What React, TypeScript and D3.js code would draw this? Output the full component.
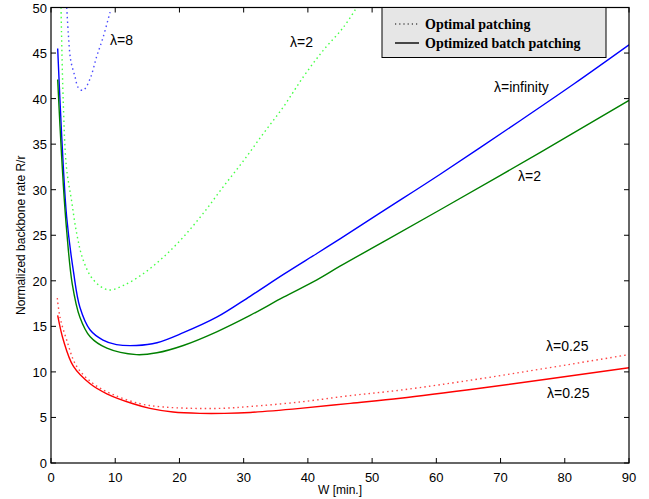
import React from "react";
import * as d3 from "d3";

const xTicks = [0, 10, 20, 30, 40, 50, 60, 70, 80, 90];
const yTicks = [0, 5, 10, 15, 20, 25, 30, 35, 40, 45, 50];

// Optimal patching (dotted)
const optL8W = [2.45, 2.7, 3.07, 3.74, 4.25, 5.0, 6.1, 7.1, 8.1, 9.2];
const optL8R = [50, 47.1, 44.2, 42.4, 41.2, 40.9, 42.2, 44.6, 46.7, 49.5];

const optL2W = [1.56, 1.9, 2.4, 3.2, 4.0, 5.0, 6.6, 8.9, 11.3, 14.4, 17.5, 20.6, 23.7, 26.8, 30, 33.1, 36.2, 39.3, 42.4, 45.5, 47.6];
const optL2R = [50, 39.8, 32.5, 28.8, 25.2, 22.3, 20.1, 19.0, 19.5, 20.8, 22.6, 24.8, 27.4, 30.3, 33.2, 36.2, 39.1, 42.4, 45.3, 47.8, 50];

const optL025W = [0.98, 1.4, 2.44, 4.0, 6.6, 9.7, 13.9, 17.5, 22, 26.5, 31, 38.8, 46.6, 54.4, 67.3, 90];
const optL025R = [18.1, 16.0, 13.5, 10.6, 8.7, 7.5, 6.5, 6.15, 6.0, 6.0, 6.2, 6.7, 7.4, 8.0, 9.3, 11.9];

// Optimized batch patching (solid)
const batchInfW = [1.04, 1.4, 1.92, 2.44, 3.5, 4.5, 6.1, 8.1, 10.2, 13.3, 16.5, 20.6, 25.8, 31, 36.2, 41.4, 45, 51.8, 60.6, 73.1, 81.4, 90];
const batchInfR = [45.5, 39.8, 32.5, 27.0, 21.0, 17.1, 14.6, 13.5, 13.0, 12.9, 13.2, 14.3, 16.0, 18.3, 20.7, 23.0, 24.6, 27.7, 31.7, 37.6, 41.6, 45.9];

const batchL2W = [1.04, 1.4, 1.92, 2.44, 3.3, 4.5, 6.1, 8.7, 13.3, 16.5, 20.6, 25.8, 31, 36.2, 41.4, 45, 51.8, 60.6, 76.2, 90];
const batchL2R = [42.1, 37.0, 30.5, 25.5, 19.7, 16.0, 13.85, 12.6, 11.9, 12.1, 12.9, 14.4, 16.2, 18.2, 20.1, 21.6, 24.3, 27.8, 34.1, 39.8];

const batchL025W = [1.04, 1.92, 3.5, 6.1, 8.7, 12.8, 15.4, 19, 23.2, 27, 31, 38.8, 46.6, 54.4, 66.8, 90];
const batchL025R = [16.2, 13.5, 10.6, 8.7, 7.6, 6.5, 6.0, 5.6, 5.45, 5.45, 5.55, 6.0, 6.55, 7.1, 8.2, 10.45];

const legendLabels = ["Optimal patching", "Optimized batch patching"];

const left = 51, right = 629, top = 7.5, bottom = 463;

export default function App() {
  const x = d3.scaleLinear().domain([0, 90]).range([left, right]);
  const y = d3.scaleLinear().domain([0, 50]).range([bottom, top]);
  const line = d3.line<[number, number]>().x(d => x(d[0])).y(d => y(d[1])).curve(d3.curveCatmullRom.alpha(0.5));
  const pts = (w: number[], r: number[]) => w.map((v, i) => [v, r[i]] as [number, number]);

  const series = [
    { w: optL8W, r: optL8R, color: "#4a4aff", dotted: true },
    { w: optL2W, r: optL2R, color: "#44ff44", dotted: true },
    { w: optL025W, r: optL025R, color: "#ff4444", dotted: true },
    { w: batchInfW, r: batchInfR, color: "#0000ff", dotted: false },
    { w: batchL2W, r: batchL2R, color: "#008000", dotted: false },
    { w: batchL025W, r: batchL025R, color: "#ff0000", dotted: false },
  ];

  const font = "Liberation Sans, Arial, sans-serif";
  const labels = [
    { t: "λ=8", x: 110, y: 45 },
    { t: "λ=2", x: 290, y: 47 },
    { t: "λ=infinity", x: 494, y: 92 },
    { t: "λ=2", x: 518, y: 181 },
    { t: "λ=0.25", x: 546, y: 351 },
    { t: "λ=0.25", x: 547, y: 398 },
  ];

  return (
    <svg width={649} height={499} style={{ position: "absolute", left: 0, top: 0, background: "#fff" }}>
      <rect x={0} y={0} width={649} height={499} fill="#fff" />
      <defs>
        <clipPath id="plot">
          <rect x={left} y={top} width={right - left} height={bottom - top} />
        </clipPath>
      </defs>
      <g clipPath="url(#plot)">
        {series.map((s, i) => (
          <path
            key={i}
            d={line(pts(s.w, s.r)) || ""}
            fill="none"
            stroke={s.color}
            strokeWidth={1.4}
            strokeDasharray={s.dotted ? "1.5,3.2" : undefined}
          />
        ))}
      </g>
      <rect x={left} y={top} width={right - left} height={bottom - top} fill="none" stroke="#000" strokeWidth={1.2} />
      {xTicks.map(t => (
        <g key={"x" + t}>
          <line x1={x(t)} x2={x(t)} y1={bottom} y2={bottom - 5} stroke="#000" />
          <line x1={x(t)} x2={x(t)} y1={top} y2={top + 5} stroke="#000" />
          <text x={x(t)} y={bottom + 19} textAnchor="middle" fontFamily={font} fontSize={13}>{t}</text>
        </g>
      ))}
      {yTicks.map(t => (
        <g key={"y" + t}>
          <line x1={left} x2={left + 5} y1={y(t)} y2={y(t)} stroke="#000" />
          <line x1={right} x2={right - 5} y1={y(t)} y2={y(t)} stroke="#000" />
          <text x={left - 4} y={y(t) + 5} textAnchor="end" fontFamily={font} fontSize={13}>{t}</text>
        </g>
      ))}
      <text x={340} y={494} textAnchor="middle" fontFamily={font} fontSize={12}>W [min.]</text>
      <text transform={`translate(25,${(top + bottom) / 2}) rotate(-90)`} textAnchor="middle" fontFamily={font} fontSize={12}>
        Normalized backbone rate R/r
      </text>
      {labels.map((l, i) => (
        <text key={i} x={l.x} y={l.y} fontFamily={font} fontSize={14}>{l.t}</text>
      ))}
      <rect x={382} y={7.5} width={224} height={50} fill="#e6e6e6" stroke="#000" strokeWidth={1} />
      <line x1={395} x2={419} y1={24} y2={24} stroke="#000" strokeWidth={1.2} strokeDasharray="1.2,3" />
      <line x1={395} x2={419} y1={43} y2={43} stroke="#000" strokeWidth={1.4} />
      <text x={425} y={29} fontFamily="Liberation Serif, Times New Roman, serif" fontWeight="bold" fontSize={14}>{legendLabels[0]}</text>
      <text x={425} y={48} fontFamily="Liberation Serif, Times New Roman, serif" fontWeight="bold" fontSize={14}>{legendLabels[1]}</text>
    </svg>
  );
}
